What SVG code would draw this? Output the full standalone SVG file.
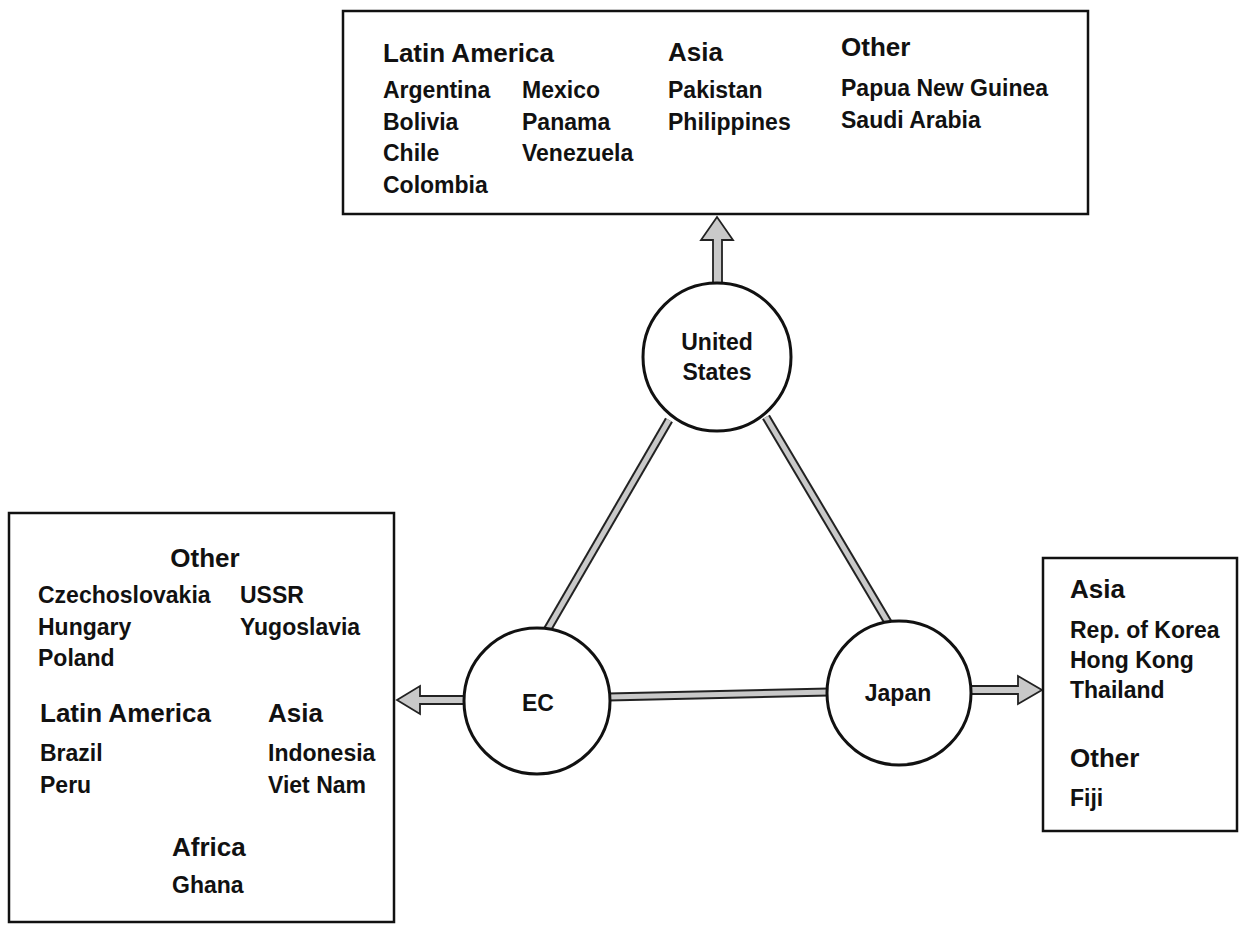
<svg xmlns="http://www.w3.org/2000/svg" width="1239" height="926" viewBox="0 0 1239 926">
<style>
  .box { fill: #ffffff; stroke: #111; stroke-width: 2.5; }
  .node { fill: #ffffff; stroke: #111; stroke-width: 3; }
  .hd { font-family: "Liberation Sans", Arial, sans-serif; font-size: 26px; font-weight: bold; fill: #111; }
  .it { font-family: "Liberation Sans", Arial, sans-serif; font-size: 23px; font-weight: bold; fill: #111; }
  .lbl { font-family: "Liberation Sans", Arial, sans-serif; font-size: 23px; font-weight: bold; fill: #111; text-anchor: middle; }
  .bandO { stroke: #222; stroke-width: 9; fill: none; }
  .bandI { stroke: #c9c9c9; stroke-width: 5; fill: none; }
  .arr { fill: #c9c9c9; stroke: #222; stroke-width: 1.8; stroke-linejoin: miter; }
</style>
<rect width="1239" height="926" fill="#ffffff"/>

<g id="connectors">
  <line class="bandO" x1="669" y1="420" x2="546" y2="632"/>
  <line class="bandI" x1="669" y1="420" x2="546" y2="632"/>
  <line class="bandO" x1="766" y1="417" x2="889" y2="624"/>
  <line class="bandI" x1="766" y1="417" x2="889" y2="624"/>
  <line class="bandO" x1="608" y1="697" x2="829" y2="692"/>
  <line class="bandI" x1="608" y1="697" x2="829" y2="692"/>
  <polygon class="arr" points="713,285 713,240 701,240 717,217 733,240 722,240 722,285"/>
  <polygon class="arr" points="466,696 420,696 420,686 397,700 420,714 420,704 466,704"/>
  <polygon class="arr" points="970,686 1018,686 1018,676 1042,690 1018,704 1018,694 970,694"/>
</g>

<g id="box-us">
  <rect class="box" x="343" y="11" width="745" height="203"/>
  <text class="hd" x="383" y="62">Latin America</text>
  <text class="it" x="383" y="98">Argentina</text>
  <text class="it" x="383" y="130">Bolivia</text>
  <text class="it" x="383" y="161">Chile</text>
  <text class="it" x="383" y="193">Colombia</text>
  <text class="it" x="522" y="98">Mexico</text>
  <text class="it" x="522" y="130">Panama</text>
  <text class="it" x="522" y="161">Venezuela</text>
  <text class="hd" x="668" y="61">Asia</text>
  <text class="it" x="668" y="98">Pakistan</text>
  <text class="it" x="668" y="130">Philippines</text>
  <text class="hd" x="841" y="56">Other</text>
  <text class="it" x="841" y="96">Papua New Guinea</text>
  <text class="it" x="841" y="128">Saudi Arabia</text>
</g>

<g id="box-ec">
  <rect class="box" x="9" y="513" width="385" height="409"/>
  <text class="hd" x="205" y="567" text-anchor="middle">Other</text>
  <text class="it" x="38" y="603">Czechoslovakia</text>
  <text class="it" x="38" y="635">Hungary</text>
  <text class="it" x="38" y="666">Poland</text>
  <text class="it" x="240" y="603">USSR</text>
  <text class="it" x="240" y="635">Yugoslavia</text>
  <text class="hd" x="40" y="722">Latin America</text>
  <text class="it" x="40" y="761">Brazil</text>
  <text class="it" x="40" y="793">Peru</text>
  <text class="hd" x="268" y="722">Asia</text>
  <text class="it" x="268" y="761">Indonesia</text>
  <text class="it" x="268" y="793">Viet Nam</text>
  <text class="hd" x="172" y="856">Africa</text>
  <text class="it" x="172" y="893">Ghana</text>
</g>

<g id="box-japan">
  <rect class="box" x="1043" y="558" width="194" height="273"/>
  <text class="hd" x="1070" y="598">Asia</text>
  <text class="it" x="1070" y="638">Rep. of Korea</text>
  <text class="it" x="1070" y="668">Hong Kong</text>
  <text class="it" x="1070" y="698">Thailand</text>
  <text class="hd" x="1070" y="767">Other</text>
  <text class="it" x="1070" y="806">Fiji</text>
</g>

<g id="node-us">
  <circle class="node" cx="717" cy="357" r="74"/>
  <text class="lbl" x="717" y="350">United</text>
  <text class="lbl" x="717" y="380">States</text>
</g>

<g id="node-ec">
  <circle class="node" cx="537" cy="701" r="73"/>
  <text class="lbl" x="538" y="711">EC</text>
</g>

<g id="node-japan">
  <circle class="node" cx="899" cy="693" r="72"/>
  <text class="lbl" x="898" y="701">Japan</text>
</g>
</svg>
